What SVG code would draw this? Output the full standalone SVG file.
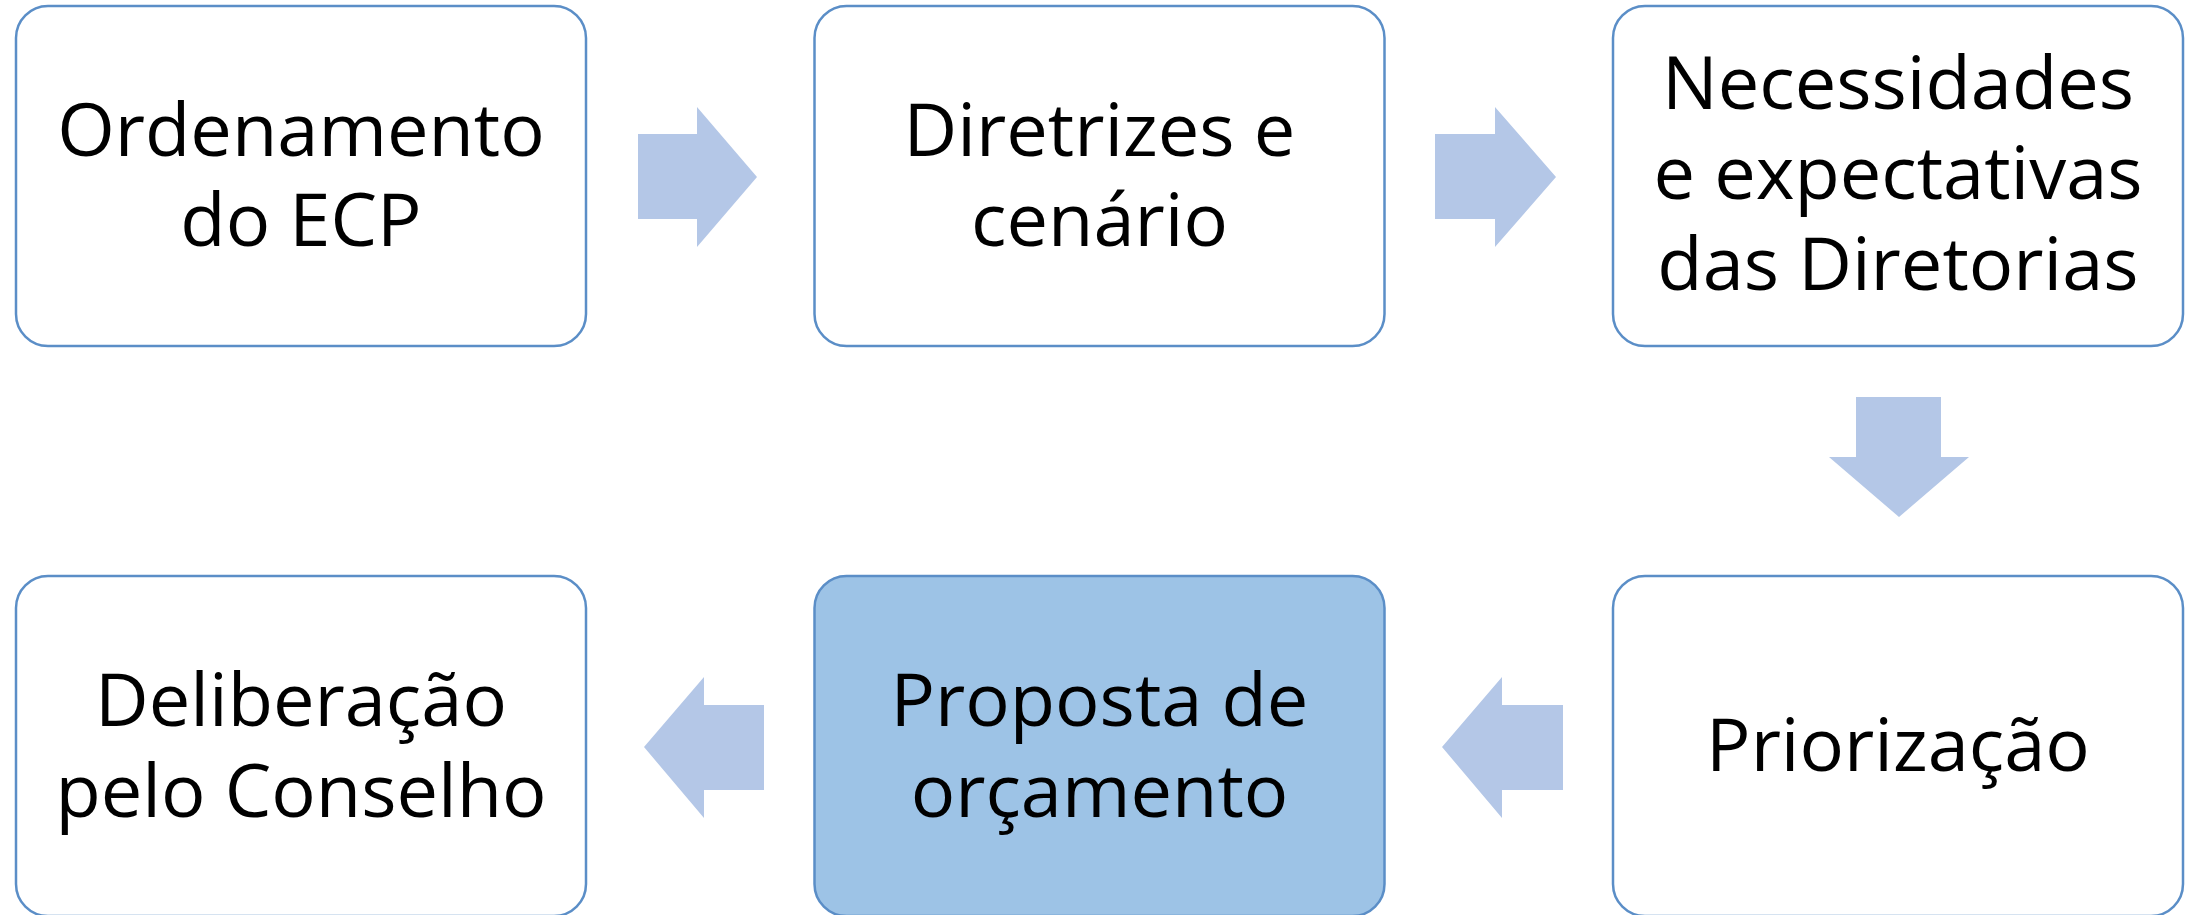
<svg xmlns="http://www.w3.org/2000/svg" width="2199" height="915" viewBox="0 0 2199 915">
<style>
.box{fill:#FFFFFF;stroke:#5B8EC7;stroke-width:2.5}
.hl{fill:#9DC3E6}
.arr{fill:#B4C7E7;stroke:none}
.t{font-family:"Open Sans","Noto Sans",sans-serif;font-size:74px;fill:#000000;text-anchor:middle}
</style>
<rect width="2199" height="915" fill="#FFFFFF"/>
<g id="connectors">
<polygon class="arr" points="638,134 697,134 697,107 757,177 697,247 697,219 638,219"/>
<polygon class="arr" points="1435,134 1495,134 1495,107 1556,177 1495,247 1495,219 1435,219"/>
<polygon class="arr" points="1856,397 1941,397 1941,457 1969,457 1899,517 1829,457 1856,457"/>
<polygon class="arr" points="1563,705 1502,705 1502,677 1442,747 1502,818 1502,790 1563,790"/>
<polygon class="arr" points="764,705 704,705 704,677 644,747 704,818 704,790 764,790"/>
</g>
<g id="n1">
<rect class="box" x="16" y="6" width="570" height="340" rx="32"/>
<text class="t" x="301" y="156">Ordenamento</text>
<text class="t" x="301" y="246">do ECP</text>
</g>
<g id="n2">
<rect class="box" x="814.5" y="6" width="570" height="340" rx="32"/>
<text class="t" x="1099.5" y="156">Diretrizes e</text>
<text class="t" x="1099.5" y="246">cenário</text>
</g>
<g id="n3">
<rect class="box" x="1613" y="6" width="570" height="340" rx="32"/>
<text class="t" x="1898" y="109">Necessidades</text>
<text class="t" x="1898" y="199">e expectativas</text>
<text class="t" x="1898" y="290">das Diretorias</text>
</g>
<g id="n4">
<rect class="box" x="1613" y="576" width="570" height="340" rx="32"/>
<text class="t" x="1898" y="771">Priorização</text>
</g>
<g id="n5">
<rect class="box hl" x="814.5" y="576" width="570" height="340" rx="32"/>
<text class="t" x="1099.5" y="726">Proposta de</text>
<text class="t" x="1099.5" y="817">orçamento</text>
</g>
<g id="n6">
<rect class="box" x="16" y="576" width="570" height="340" rx="32"/>
<text class="t" x="301" y="726">Deliberação</text>
<text class="t" x="301" y="817">pelo Conselho</text>
</g>
</svg>
